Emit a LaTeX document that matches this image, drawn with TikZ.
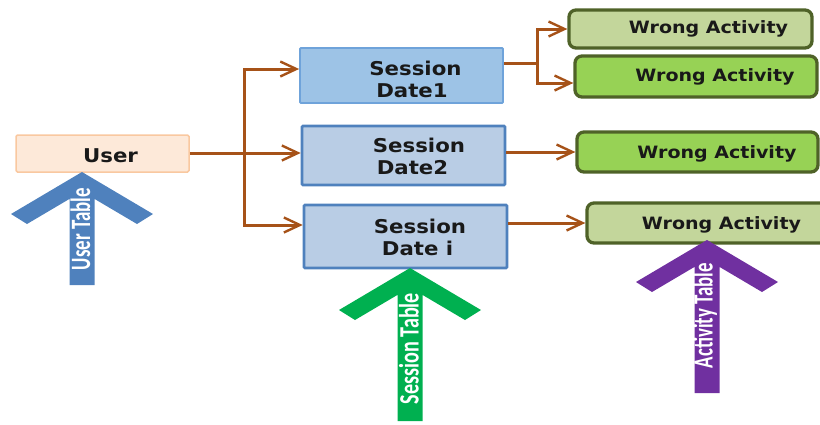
\documentclass[tikz,border=0pt]{standalone}
\usepackage{fontspec}
\setmainfont{DejaVu Sans}
\newfontfamily\tablefont{Carlito}
\usetikzlibrary{arrows.meta}

\definecolor{linkbrown}{RGB}{166,82,24}
\definecolor{userfill}{HTML}{FDE9D9}
\definecolor{userline}{HTML}{F9C8A0}
\definecolor{sessfillA}{HTML}{9DC3E6}
\definecolor{sesslineA}{HTML}{6FA3DA}
\definecolor{sessfillB}{HTML}{B9CDE5}
\definecolor{sesslineB}{HTML}{4F81BD}
\definecolor{actpale}{HTML}{C3D69B}
\definecolor{actbright}{HTML}{97D255}
\definecolor{actline}{HTML}{4F6228}
\definecolor{tblblue}{HTML}{4F81BD}
\definecolor{tblgreen}{HTML}{00B050}
\definecolor{tblpurple}{HTML}{7030A0}

% slightly widened bold lettering
\newcommand{\widetxt}[1]{\scalebox{1.12}[1]{#1}}
% condensed white label on a table arrow, stretched to a given length
\newcommand{\tbltxt}[2]{\resizebox{#1}{\height}{\tablefont\bfseries\fontsize{28}{30}\selectfont #2}}

\begin{document}
\begin{tikzpicture}[x=1pt,y=-1pt,
  userbox/.style={draw=userline, line width=1.5pt, fill=userfill,
    minimum width=173pt, minimum height=37pt, inner sep=0pt, rounded corners=1.5pt},
  sessbox/.style={inner sep=0pt, rounded corners=1pt},
  actbox/.style={draw=actline, line width=3.3pt, rounded corners=7pt, inner sep=0pt},
  boxtext/.style={font=\fontsize{19}{22}\selectfont\bfseries, text=black!90, inner sep=0pt, anchor=base},
  acttext/.style={font=\fontsize{17}{20}\selectfont\bfseries, text=black!90, inner sep=0pt, anchor=base},
  tbltext/.style={text=white, inner sep=0pt, rotate=90},
  link/.style={draw=linkbrown, line width=3pt,
    -{Straight Barb[length=16pt,width=15pt,line width=2.4pt]}},
  pics/tblarrow/.style n args={2}{code={
    \fill[#1] (0,0) -- (-71,42) -- (-55,52) -- (-12.5,26.9) -- (-12.5,#2)
      -- (12.5,#2) -- (12.5,26.9) -- (55,52) -- (71,42) -- cycle;
  }}
]
\useasboundingbox (0,0) rectangle (820,424);

% ---- user ----
\node[userbox] (user) at (102.5,153.5) {};
\node[boxtext] (usert) at (110.5,162) {\widetxt{User}};

% ---- sessions ----
\node[sessbox, draw=sesslineA, line width=1.8pt, fill=sessfillA,
  minimum width=203pt, minimum height=55pt] (s1) at (401.5,75.5) {};
\node[sessbox, draw=sesslineB, line width=2.6pt, fill=sessfillB,
  minimum width=203pt, minimum height=59pt] (s2) at (403.5,155.5) {};
\node[sessbox, draw=sesslineB, line width=2.6pt, fill=sessfillB,
  minimum width=203pt, minimum height=63pt] (s3) at (405.5,236.5) {};

\node[boxtext] (s1a) at (415.5,75) {\widetxt{Session}};
\node[boxtext] (s1b) at (412,97) {\widetxt{Date1}};
\node[boxtext] (s2a) at (419,152) {\widetxt{Session}};
\node[boxtext] (s2b) at (412.5,174) {\widetxt{Date2}};
\node[boxtext] (s3a) at (420,233) {\widetxt{Session}};
\node[boxtext] (s3b) at (417.5,255) {\widetxt{Date i}};

% ---- activities ----
\node[actbox, fill=actpale, minimum width=243pt, minimum height=38pt] (w1) at (690.5,29) {};
\node[actbox, fill=actbright, minimum width=242pt, minimum height=41pt] (w2) at (696,76.5) {};
\node[actbox, fill=actbright, minimum width=241pt, minimum height=40pt] (w3) at (697.5,152) {};
\node[actbox, fill=actpale, minimum width=240pt, minimum height=40pt] (w4) at (707,223) {};

\node[acttext] (w1t) at (708.5,33.5) {\widetxt{Wrong Activity}};
\node[acttext] (w2t) at (715,81) {\widetxt{Wrong Activity}};
\node[acttext] (w3t) at (717,158) {\widetxt{Wrong Activity}};
\node[acttext] (w4t) at (721.5,229) {\widetxt{Wrong Activity}};

% ---- connectors ----
\coordinate (ju) at (244,153);
\coordinate (js) at (537,63);
\draw[link] (user.east |- ju) -- (ju -| s2.west);
\draw[link] (ju) |- ([yshift=6.5pt]s1.west);
\draw[link] (ju) |- ([yshift=11.5pt]s3.west);
\draw[link, -] (s1.east |- js) -- (js);
\draw[link] (js) |- (w1.west);
\draw[link] (js) |- ([yshift=-6.5pt]w2.west);
\draw[link] ([yshift=3.5pt]s2.east) -- ([yshift=3.5pt]s2.east -| w3.west);
\draw[link] (s3.east |- w4.west) -- (w4.west);

% ---- table arrows ----
\pic at (82,172) {tblarrow={tblblue}{113}};
\pic at (410,268) {tblarrow={tblgreen}{153}};
\pic at (707,240) {tblarrow={tblpurple}{153}};

\node[tbltext] (ut) at (80.5,229) {\tbltxt{82pt}{User Table}};
\node[tbltext] (st) at (409,348.5) {\tbltxt{111pt}{Session Table}};
\node[tbltext] (at) at (705,315.5) {\tbltxt{105pt}{Activity Table}};
\end{tikzpicture}
\end{document}
